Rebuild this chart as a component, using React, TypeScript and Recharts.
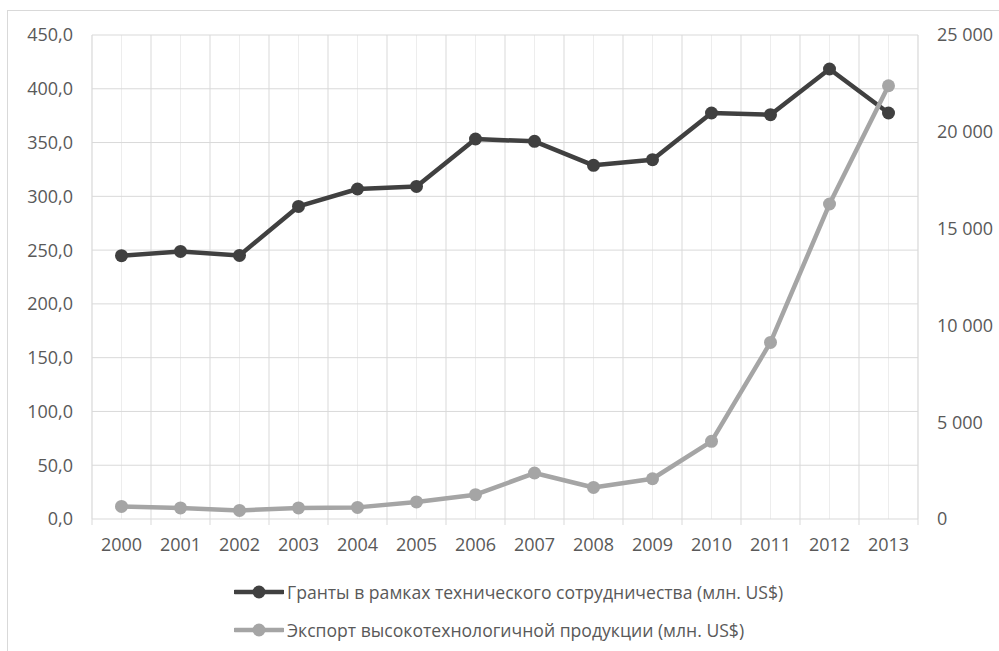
import React from 'react';
import { ComposedChart, Line, XAxis, YAxis, CartesianGrid, Legend } from 'recharts';

const years = ['2000', '2001', '2002', '2003', '2004', '2005', '2006', '2007', '2008', '2009', '2010', '2011', '2012', '2013'];
const grants = [244.8, 248.8, 245.1, 290.6, 306.8, 309.2, 353.3, 351.1, 328.8, 334.1, 377.5, 375.9, 418.4, 377.5];
const exports_ = [650, 570, 445, 570, 600, 880, 1255, 2375, 1630, 2080, 4010, 9120, 16270, 22380];
const leftTicks = [0, 50, 100, 150, 200, 250, 300, 350, 400, 450];
const rightTicks = [0, 5000, 10000, 15000, 20000, 25000];

const grantsName = 'Гранты в рамках технического сотрудничества (млн. US$)';
const exportName = 'Экспорт высокотехнологичной продукции (млн. US$)';

const data = years.map((y, i) => ({ year: y, grants: grants[i], exp: exports_[i] }));

const FONT = '"Open Sans", sans-serif';
const TXT = '#595959';
const DARK = '#404040';
const LIGHT = '#a5a5a5';
const GRID = '#d9d9d9';
const PLOT_W = 999 - 92 - 81;
const HALF = PLOT_W / years.length / 2;

const fmtLeft = (v: number) => v.toFixed(1).replace('.', ',');
const fmtRight = (v: number) => {
  const s = String(Math.round(v));
  return s.replace(/\B(?=(\d{3})+(?!\d))/g, ' ');
};

const legendItems = [
  { name: grantsName, color: DARK },
  { name: exportName, color: LIGHT },
];

const LegendContent = () => (
  <div style={{ fontFamily: FONT, fontSize: 17.6, color: TXT }}>
    {legendItems.map((it) => (
      <div key={it.name} style={{ height: 38, display: 'flex', alignItems: 'center', whiteSpace: 'nowrap' }}>
        <svg width={50} height={16} style={{ display: 'block' }}>
          <line x1={1} y1={8} x2={49} y2={8} stroke={it.color} strokeWidth={4.5} strokeLinecap="round" />
          <circle cx={25} cy={8} r={6.5} fill={it.color} />
        </svg>
        <span style={{ marginLeft: 3 }}>{it.name}</span>
      </div>
    ))}
  </div>
);

const YearTick = (props: any) => {
  const { x, y, payload, index } = props;
  const last = index === years.length - 1;
  return (
    <g>
      <line x1={x - HALF} y1={y} x2={x - HALF} y2={y + 6} stroke={GRID} strokeWidth={1} />
      {last && <line x1={x + HALF} y1={y} x2={x + HALF} y2={y + 6} stroke={GRID} strokeWidth={1} />}
      <text x={x} y={y + 19} dy="0.71em" textAnchor="middle" fill={TXT} fontSize={18} fontFamily={FONT}>
        {payload.value}
      </text>
    </g>
  );
};

const majorVerticals = ({ offset }: any) =>
  Array.from({ length: years.length + 1 }, (_, i) => offset.left + (i * offset.width) / years.length);

export default function App() {
  return (
    <div style={{ position: 'fixed', left: 0, top: 0, width: 999, height: 651, overflow: 'hidden', background: '#fff' }}>
      <div style={{ position: 'absolute', left: 7, top: 10, width: 1200, height: 800, border: '1px solid #d9d9d9', boxSizing: 'border-box' }} />
      <div style={{ position: 'absolute', left: 0, top: 0 }}>
        <ComposedChart width={999} height={651} data={data} margin={{ top: 35, right: 0, bottom: 2, left: 0 }}>
          <CartesianGrid yAxisId="left" horizontal={false} vertical stroke="#ededed" strokeWidth={1} />
          <CartesianGrid yAxisId="left" horizontal vertical verticalCoordinatesGenerator={majorVerticals} stroke={GRID} strokeWidth={1} />
          <XAxis
            dataKey="year"
            height={54}
            padding={{ left: HALF, right: HALF }}
            axisLine={false}
            tickLine={false}
            tickSize={0}
            tickMargin={0}
            interval={0}
            tick={YearTick}
          />
          <YAxis
            yAxisId="left"
            orientation="left"
            width={92}
            domain={[0, 450]}
            ticks={leftTicks}
            tickFormatter={fmtLeft}
            axisLine={false}
            tickLine={false}
            tickSize={0}
            tickMargin={19}
            tick={{ fill: TXT, fontSize: 18, fontFamily: FONT }}
          />
          <YAxis
            yAxisId="right"
            orientation="right"
            width={81}
            domain={[0, 25000]}
            ticks={rightTicks}
            tickFormatter={fmtRight}
            axisLine={false}
            tickLine={false}
            tickSize={0}
            tickMargin={19}
            tick={{ fill: TXT, fontSize: 18, fontFamily: FONT, textAnchor: 'start' }}
          />
          <Legend
            layout="vertical"
            verticalAlign="bottom"
            align="center"
            content={LegendContent}
            wrapperStyle={{ left: 234, bottom: 2, width: 700 }}
          />
          <Line
            yAxisId="left"
            dataKey="grants"
            name={grantsName}
            stroke={DARK}
            strokeWidth={4.5}
            strokeLinejoin="round"
            dot={{ r: 6.5, fill: DARK, stroke: DARK, strokeWidth: 0 }}
            activeDot={false}
            isAnimationActive={false}
          />
          <Line
            yAxisId="right"
            dataKey="exp"
            name={exportName}
            stroke={LIGHT}
            strokeWidth={4.5}
            strokeLinejoin="round"
            dot={{ r: 6.5, fill: LIGHT, stroke: LIGHT, strokeWidth: 0 }}
            activeDot={false}
            isAnimationActive={false}
          />
        </ComposedChart>
      </div>
    </div>
  );
}
